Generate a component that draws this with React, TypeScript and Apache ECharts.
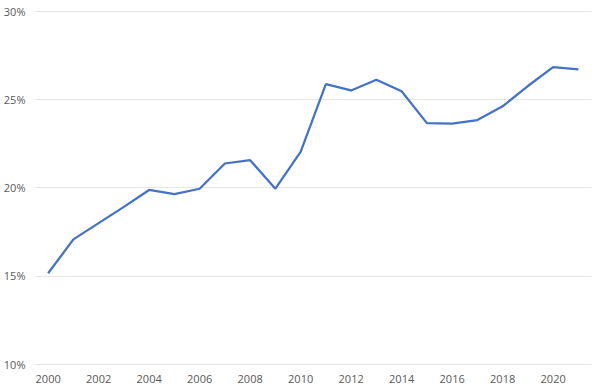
import React, { useEffect, useRef } from "react";
import * as echarts from "echarts";

const years = ["2000","2001","2002","2003","2004","2005","2006","2007","2008","2009","2010","2011","2012","2013","2014","2015","2016","2017","2018","2019","2020","2021"];
const values = [15.14, 17.06, 17.98, 18.9, 19.86, 19.63, 19.93, 21.36, 21.55, 19.93, 22.02, 25.86, 25.5, 26.1, 25.45, 23.65, 23.62, 23.82, 24.6, 25.75, 26.82, 26.69];
const yTicks = { min: 10, max: 30, interval: 5 };

export default function App() {
  const ref = useRef<HTMLDivElement>(null);
  useEffect(() => {
    if (!ref.current) return;
    const chart = echarts.init(ref.current, undefined, { renderer: "svg" });
    chart.setOption({
      animation: false,
      backgroundColor: "#ffffff",
      grid: { left: 35.5, right: 9, top: 11, bottom: 27, containLabel: false },
      xAxis: {
        type: "category",
        data: years,
        boundaryGap: true,
        axisLine: { show: false },
        axisTick: { show: false },
        axisLabel: {
          interval: 1,
          color: "#595959",
          fontSize: 11,
          fontFamily: "Open Sans",
          margin: 9,
        },
        splitLine: { show: false },
      },
      yAxis: {
        type: "value",
        min: yTicks.min,
        max: yTicks.max,
        interval: yTicks.interval,
        axisLine: { show: false },
        axisTick: { show: false },
        axisLabel: {
          formatter: (v: number) => `${v}%`,
          color: "#595959",
          fontSize: 11,
          fontFamily: "Open Sans",
          margin: 10,
        },
        splitLine: { lineStyle: { color: "#e6e6e6", width: 1 } },
      },
      series: [
        {
          type: "line",
          data: values,
          symbol: "none",
          lineStyle: { color: "#4472C4", width: 2.25 },
        },
      ],
    });
    return () => chart.dispose();
  }, []);
  return <div ref={ref} style={{ width: 600, height: 391, position: "absolute", left: 0, top: 0 }} />;
}
